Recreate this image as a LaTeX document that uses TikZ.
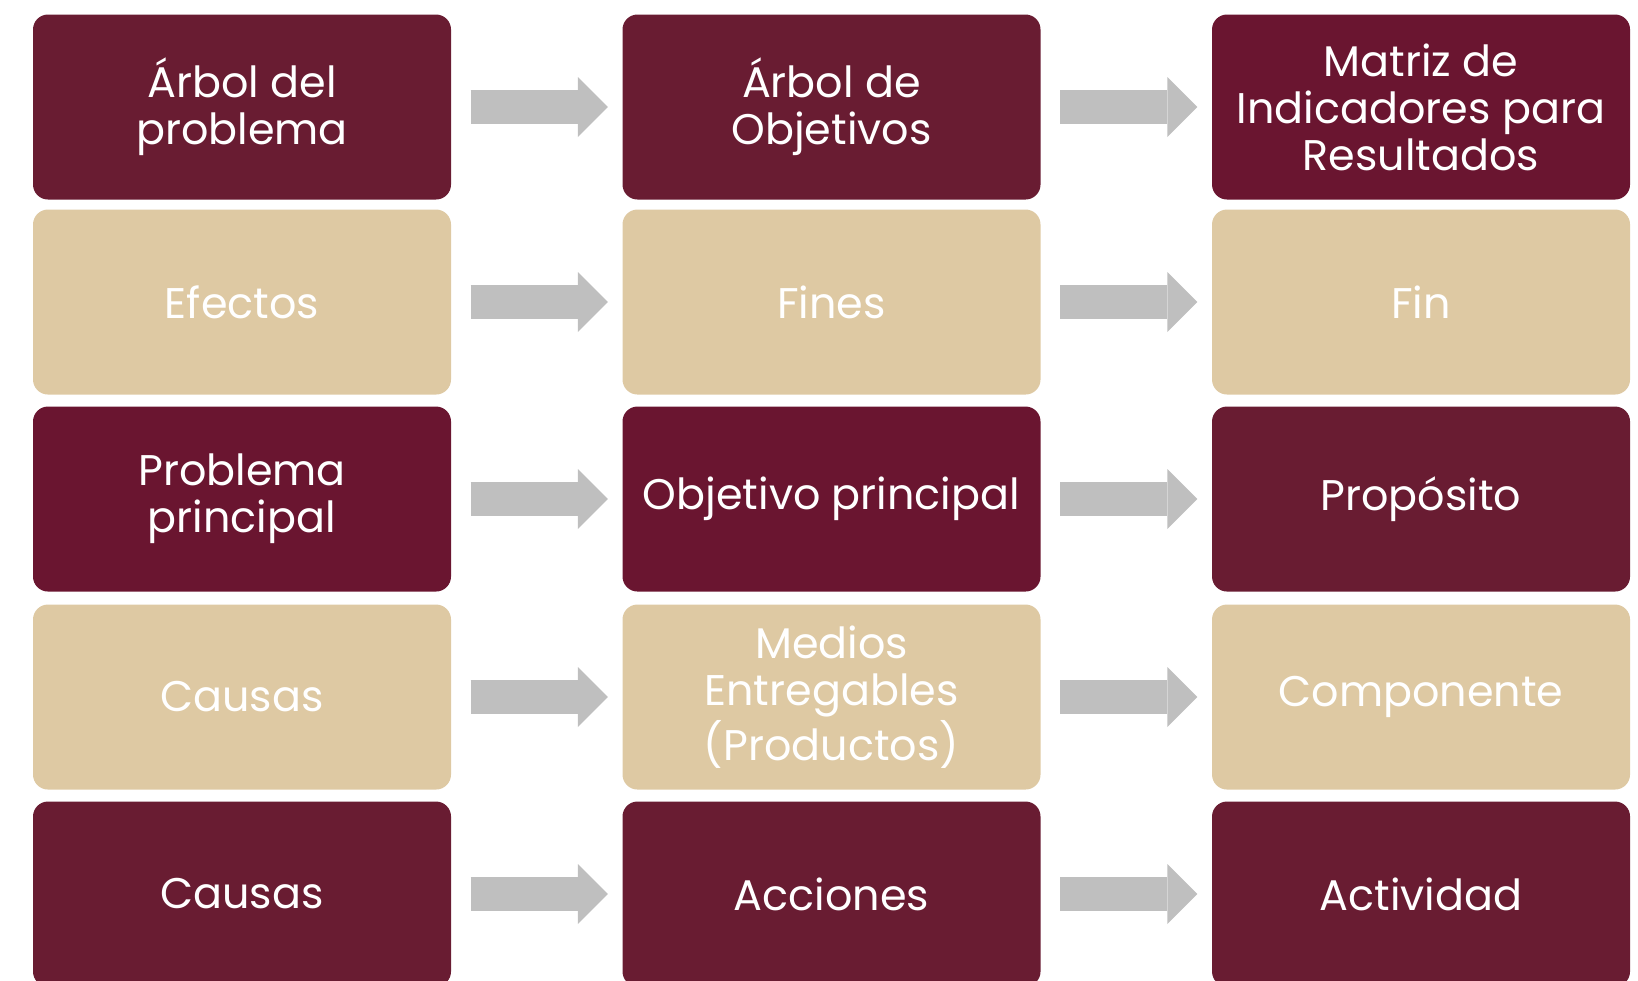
\documentclass[tikz,border=0pt]{standalone}
\usepackage{fontspec}
\setmainfont{Poppins}
\usetikzlibrary{arrows.meta}

\definecolor{guinda}{HTML}{691C32}
\definecolor{guindaB}{HTML}{6A1530}
\definecolor{arena}{HTML}{DEC9A3}
\definecolor{gris}{HTML}{BFBFBF}

\tikzset{
  caja/.style={rounded corners=0.15cm, minimum width=4.18cm, minimum height=1.85cm,
    align=center, text=white, inner sep=0pt, font=\fontsize{12.2}{13.4}\selectfont},
  flecha/.style={draw=gris, line width=0.34cm,
    -{Triangle[length=0.3cm,width=0.6cm,line width=0pt,fill=gris]},
    shorten <=0.19cm, shorten >=0.14cm}
}

\begin{document}
\begin{tikzpicture}
\useasboundingbox (0,0) rectangle (16.38,-9.8);
\clip (0,0) rectangle (16.38,-9.8);
% arbol del problema
\node [caja,fill=guinda] (arbol) at (2.42,-1.07) {Árbol del\\problema};
\node [caja,fill=arena] (efectos) at (2.42,-3.02) {Efectos};
\node [caja,fill=guindaB] (problema) at (2.42,-4.99) {Problema\\principal};
\node [caja,fill=arena] (causas) at (2.42,-6.97) {Causas};
\node [caja,fill=guinda] (causasB) at (2.42,-8.94) {Causas};
% arbol de objetivos
\node [caja,fill=guinda] (objetivos) at (8.315,-1.07) {Árbol de\\Objetivos};
\node [caja,fill=arena] (fines) at (8.315,-3.02) {Fines};
\node [caja,fill=guindaB] (objetivo) at (8.315,-4.99) {Objetivo principal};
\node [caja,fill=arena] (medios) at (8.315,-6.97) {Medios\\Entregables\\(Productos)};
\node [caja,fill=guinda] (acciones) at (8.315,-8.94) {Acciones};
% matriz
\node [caja,fill=guindaB] (matriz) at (14.21,-1.07) {Matriz de\\Indicadores para\\Resultados};
\node [caja,fill=arena] (fin) at (14.21,-3.02) {Fin};
\node [caja,fill=guinda] (proposito) at (14.21,-4.99) {Propósito};
\node [caja,fill=arena] (componente) at (14.21,-6.97) {Componente};
\node [caja,fill=guinda] (actividad) at (14.21,-8.94) {Actividad};
% flechas
\draw [flecha] (arbol) -- (objetivos);
\draw [flecha] (objetivos) -- (matriz);
\draw [flecha] (efectos) -- (fines);
\draw [flecha] (fines) -- (fin);
\draw [flecha] (problema) -- (objetivo);
\draw [flecha] (objetivo) -- (proposito);
\draw [flecha] (causas) -- (medios);
\draw [flecha] (medios) -- (componente);
\draw [flecha] (causasB) -- (acciones);
\draw [flecha] (acciones) -- (actividad);
\end{tikzpicture}
\end{document}
